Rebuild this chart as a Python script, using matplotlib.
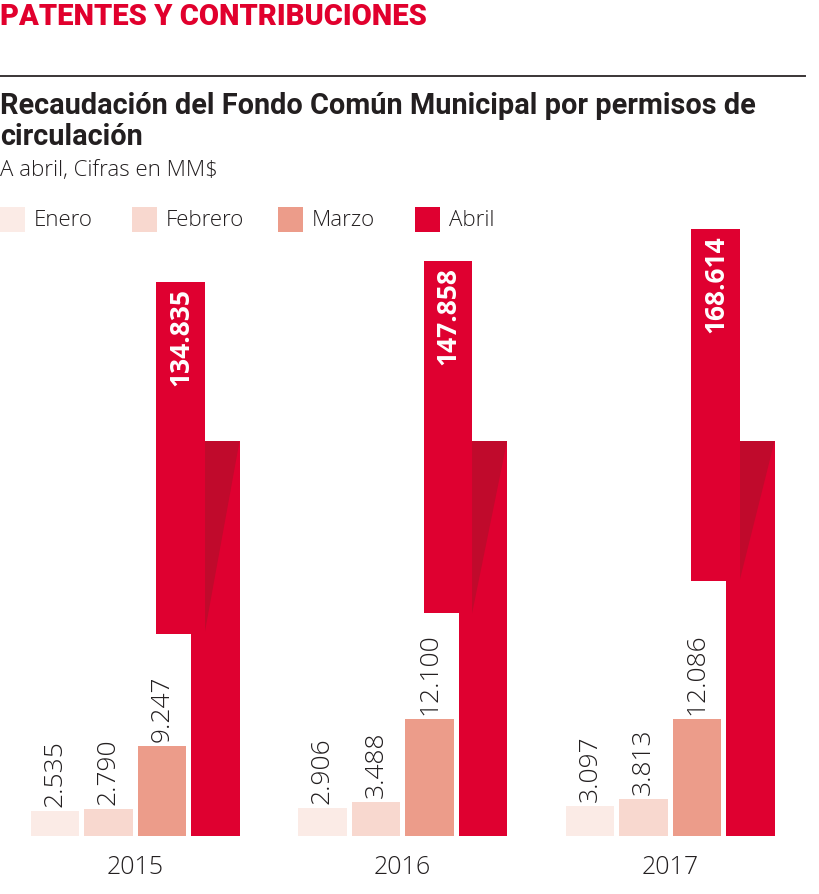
import numpy as np
import matplotlib.pyplot as plt
from matplotlib.patches import Polygon, Rectangle

# ------------------------------------------------------------
# data (MM$)
years = ['2015', '2016', '2017']
months = ['Enero', 'Febrero', 'Marzo', 'Abril']
enero = [2.535, 2.906, 3.097]
febrero = [2.790, 3.488, 3.813]
marzo = [9.247, 12.100, 12.086]
abril = [134.835, 147.858, 168.614]

colors = ['#fbebe6', '#f8d8cf', '#ec9c8a', '#df0030']
dark_fold = '#c00a2c'
red_title = '#e1002d'
ink = '#231f20'

# ------------------------------------------------------------
# figure geometry (pixels)
W, H = 820, 894
fig = plt.figure(figsize=(W / 100, H / 100), dpi=100)


def fx(px):
    return px / W


def fy(py):
    return 1 - py / H


# axes: baseline at y=836 px, top at y=200 px
base_px, top_px = 836, 200
ax = fig.add_axes([0, fy(base_px), 1, (base_px - top_px) / H])
step = 53.5  # px between bar centres
first = 55   # px centre of first bar
ax.set_xlim(-first / step, (W - first) / step)
ax.set_ylim(0, base_px - top_px)
ax.axis('off')

scale = 9.7        # px per MM$ for the small bars
brk = 395          # height of the lower part of the broken April bar
box_h = 352        # height of the floating upper part
shift = 35 / step  # floating box shifted to the left
bw = 0.9

light = dict(family=['Open Sans', 'DejaVu Sans'], weight='light')

for i, yr in enumerate(years):
    x0 = i * 5
    for j, vals in enumerate([enero, febrero, marzo]):
        h = vals[i] * scale
        ax.bar(x0 + j, h, width=bw, color=colors[j], linewidth=0)
        ax.text(x0 + j, h + 4, '%.3f' % vals[i], rotation=90, ha='center',
                va='bottom', fontsize=19, color=ink, **light)

    # broken bar for April
    xa = x0 + 3
    ax.bar(xa, brk, width=bw, color=colors[3], linewidth=0)
    top = 344 + 1.56 * abril[i]
    xb = xa - shift
    box_right = xb + bw / 2
    fold = Polygon([(box_right, brk), (xa + bw / 2, brk), (box_right, top - box_h)],
                   closed=True, color=dark_fold, linewidth=0)
    ax.add_patch(fold)
    ax.bar(xb, box_h, bottom=top - box_h, width=bw, color=colors[3], linewidth=0)
    ax.text(xb, top - 6, '%.3f' % abril[i], rotation=90, ha='center', va='top',
            fontsize=19, color='white', weight='bold',
            family=['Open Sans', 'DejaVu Sans'])

    ax.text(x0 + 1.5, -31, yr, ha='center', va='center', fontsize=18,
            color=ink, clip_on=False, **light)

# ------------------------------------------------------------
# header
fig.text(fx(0), fy(25), 'PATENTES Y CONTRIBUCIONES', color=red_title,
         fontsize=21, weight='heavy', va='baseline',
         family=['Roboto', 'DejaVu Sans'])
fig.add_artist(plt.Line2D([0, fx(805)], [fy(76), fy(76)], color='#3a3536',
                          linewidth=1.4))
fig.text(fx(0), fy(114), 'Recaudación del Fondo Común Municipal por permisos de',
         color=ink, fontsize=20.8, weight='bold', va='baseline',
         family=['Roboto', 'DejaVu Sans'])
fig.text(fx(0), fy(145), 'circulación', color=ink, fontsize=20.8, weight='bold',
         va='baseline', family=['Roboto', 'DejaVu Sans'])
fig.text(fx(0), fy(176), 'A abril, Cifras en MM$', color=ink, fontsize=16,
         va='baseline', **light)

# legend
leg_x = [0, 132, 278, 415]
for lx, name, c in zip(leg_x, months, colors):
    fig.add_artist(Rectangle((fx(lx), fy(232)), fx(25), 25 / H, color=c,
                             linewidth=0, transform=fig.transFigure))
    fig.text(fx(lx + 34), fy(220), name, va='center', ha='left', fontsize=16,
             color=ink, **light)

fig.savefig('out.png', dpi=100)
